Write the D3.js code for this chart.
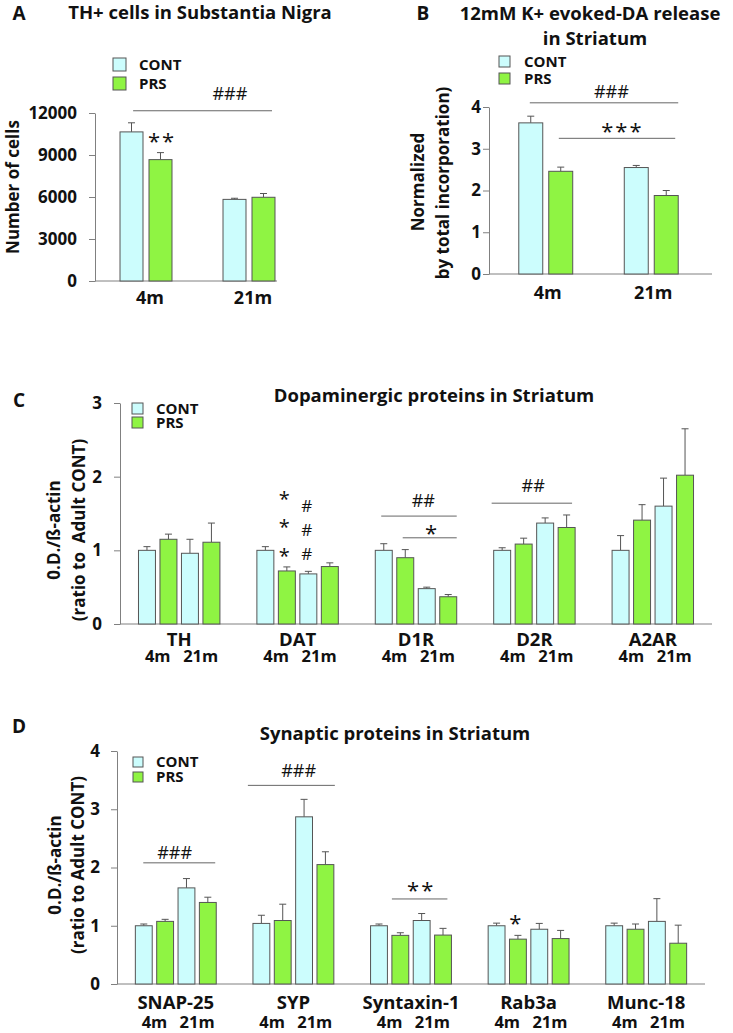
<!DOCTYPE html>
<html><head><meta charset="utf-8">
<script src="https://cdn.jsdelivr.net/npm/d3@7"></script>
<style>
body{margin:0;background:#fff;}
svg text{font-family:"Open Sans",Lato,sans-serif;fill:#111;}
</style></head><body>
<svg id="chart" width="733" height="1033"></svg>
<script>
// ---------------- DATA ----------------
const seriesTwo = ["CONT", "PRS"];
// Panel A: TH+ cells in Substantia Nigra
const ageGroupsA = ["4m", "21m"];
const thCont = [10650, 5830];
const thContErr = [650, 80];
const thPrs = [8670, 5980];
const thPrsErr = [500, 270];
const ticksA = [0, 3000, 6000, 9000, 12000];
// Panel B: 12mM K+ evoked DA release
const ageGroupsB = ["4m", "21m"];
const daCont = [3.62, 2.55];
const daContErr = [0.16, 0.05];
const daPrs = [2.46, 1.88];
const daPrsErr = [0.10, 0.12];
const ticksB = [0, 1, 2, 3, 4];
// Panel C: dopaminergic proteins
const seriesFour = ["CONT 4m", "PRS 4m", "CONT 21m", "PRS 21m"];
const proteinsC = ["TH", "DAT", "D1R", "D2R", "A2AR"];
const dopCont4 = [1.00, 1.00, 1.00, 1.00, 1.00];
const dopCont4Err = [0.05, 0.05, 0.09, 0.035, 0.20];
const dopPrs4 = [1.15, 0.72, 0.90, 1.085, 1.41];
const dopPrs4Err = [0.07, 0.055, 0.11, 0.08, 0.21];
const dopCont21 = [0.96, 0.68, 0.48, 1.37, 1.60];
const dopCont21Err = [0.19, 0.035, 0.02, 0.07, 0.38];
const dopPrs21 = [1.11, 0.78, 0.37, 1.31, 2.02];
const dopPrs21Err = [0.26, 0.05, 0.03, 0.17, 0.63];
const ticksC = [0, 1, 2, 3];
// Panel D: synaptic proteins
const proteinsD = ["SNAP-25", "SYP", "Syntaxin-1", "Rab3a", "Munc-18"];
const synCont4 = [1.00, 1.04, 1.00, 1.00, 1.00];
const synCont4Err = [0.03, 0.14, 0.03, 0.045, 0.045];
const synPrs4 = [1.075, 1.09, 0.835, 0.77, 0.94];
const synPrs4Err = [0.035, 0.28, 0.045, 0.065, 0.09];
const synCont21 = [1.65, 2.87, 1.09, 0.94, 1.075];
const synCont21Err = [0.16, 0.30, 0.12, 0.10, 0.39];
const synPrs21 = [1.40, 2.05, 0.84, 0.78, 0.70];
const synPrs21Err = [0.09, 0.22, 0.115, 0.14, 0.31];
const ticksD = [0, 1, 2, 3, 4];
const subAges = ["4m", "21m"];

// ---------------- STYLE ----------------
const CONT_FILL = "#ccfdfd", PRS_FILL = "#8ff443";
const AXIS = "#808080", EDGE = "#555555";
const FONT = "Open Sans";
const svg = d3.select("#chart");

function txt(x, y, s, size, opts = {}) {
  const t = svg.append("text").attr("x", x).attr("y", y).text(s)
    .attr("font-size", size).attr("font-family", FONT)
    .attr("font-weight", opts.weight || "bold")
    .attr("text-anchor", opts.anchor || "middle")
    .style("white-space", "pre");
  if (opts.rotate) t.attr("transform", `rotate(-90,${x},${y})`);
  if (opts.db) t.attr("dominant-baseline", opts.db);
  return t;
}

function panel(o) {
  const g = svg.append("g");
  const x0 = d3.scaleBand().domain(o.groups).range(o.xRange);
  const x1 = d3.scaleBand().domain(d3.range(o.values.length))
    .range([0, x0.bandwidth()]).paddingInner(o.inner).paddingOuter(o.outer);
  const y = d3.scaleLinear().domain(o.yDomain).range(o.yRange);
  const ax = g.append("g").attr("transform", `translate(${o.axisX},0)`)
    .call(d3.axisLeft(y).tickValues(o.ticks).tickSize(6).tickSizeOuter(0)
      .tickPadding(o.tickPad).tickFormat(d3.format("d")));
  ax.select(".domain").attr("stroke", AXIS);
  ax.selectAll(".tick line").attr("stroke", AXIS);
  ax.selectAll(".tick text").attr("font-size", o.tickFont).attr("font-weight", "bold")
    .attr("font-family", FONT).attr("fill", "#111");
  g.append("line").attr("x1", o.axisX).attr("x2", o.axisEnd)
    .attr("y1", y(0)).attr("y2", y(0)).attr("stroke", AXIS);

  const flat = [];
  o.values.forEach((arr, si) => arr.forEach((v, gi) =>
    flat.push({gi, si, v, e: o.errors[si][gi]})));
  const bw = x1.bandwidth();
  const bx = d => x0(o.groups[d.gi]) + x1(d.si);
  g.selectAll(null).data(flat).join("line")
    .attr("x1", d => bx(d) + bw / 2).attr("x2", d => bx(d) + bw / 2)
    .attr("y1", d => y(d.v)).attr("y2", d => y(d.v + d.e)).attr("stroke", EDGE);
  g.selectAll(null).data(flat).join("line")
    .attr("x1", d => bx(d) + bw / 2 - 3.5).attr("x2", d => bx(d) + bw / 2 + 3.5)
    .attr("y1", d => y(d.v + d.e)).attr("y2", d => y(d.v + d.e)).attr("stroke", EDGE);
  g.selectAll(null).data(flat).join("rect")
    .attr("x", bx).attr("y", d => y(d.v)).attr("width", bw)
    .attr("height", d => y(0) - y(d.v))
    .attr("fill", d => o.fills[d.si]).attr("stroke", EDGE).attr("stroke-width", 1);

  const p = {x0, x1, y, groups: o.groups, bw};
  p.bx = (gi, si, f) => x0(o.groups[gi]) + x1(si) + f * bw;
  o.groups.forEach((gname, gi) => {
    txt(x0(gname) + x0.bandwidth() / 2 + (o.labelDx || 0), o.labelY, gname, o.labelFont);
  });
  if (o.subLabels) {
    o.groups.forEach((gname, gi) => {
      o.subLabels.forEach((s, k) => {
        const cx = (p.bx(gi, 2 * k, 0) + p.bx(gi, 2 * k + 1, 1)) / 2;
        txt(cx, o.subY, s, o.subFont);
      });
    });
  }
  return p;
}

function bracket(p, a, b, v) {
  svg.append("line").attr("x1", p.bx(...a)).attr("x2", p.bx(...b))
    .attr("y1", p.y(v)).attr("y2", p.y(v)).attr("stroke", "#666").attr("stroke-width", 1);
}
// v = glyph centre (data units); baseline shifted by glyph-specific factor
function mark(p, a, v, s, size, kind) {
  const k = kind === "star" ? 0.56 : 0.36;
  txt(p.bx(...a), p.y(v) + k * size, s, size, {weight: "normal"})
    .attr("letter-spacing", kind === "star" ? 2 : 0);
}
function legend(x, y0, y1, sz, tx, fs) {
  [[y0, CONT_FILL, "CONT"], [y1, PRS_FILL, "PRS"]].forEach(([yy, f, s]) => {
    svg.append("rect").attr("x", x).attr("y", yy).attr("width", sz).attr("height", sz)
      .attr("fill", f).attr("stroke", EDGE);
    txt(tx, yy + sz / 2 + 0.36 * fs, s, fs, {anchor: "start"});
  });
}

// ---------------- PANEL A ----------------
txt(19, 19.5, "A", 19);
txt(200, 19, "TH+ cells in Substantia Nigra", 18.5);
legend(113, 58, 77, 13, 139, 15);
const pA = panel({groups: ageGroupsA, values: [thCont, thPrs], errors: [thContErr, thPrsErr],
  fills: [CONT_FILL, PRS_FILL], yDomain: [0, 12000], yRange: [281, 113], xRange: [94.5, 300.5],
  inner: 0.207, outer: 0.88, axisX: 95, axisEnd: 277, ticks: ticksA, tickPad: 12, tickFont: 17,
  labelY: 304, labelFont: 18, labelDx: 4});
txt(12, 187, "Number of cells", 17, {rotate: true, db: "central"});
bracket(pA, [0, 0, 0.57], [1, 1, 0.87], 12160);
mark(pA, [1, 0, 0.3], 13380, "###", 18, "hash");
mark(pA, [0, 1, 0.57], 10290, "**", 22, "star");

// ---------------- PANEL B ----------------
txt(423, 19.5, "B", 19);
txt(590, 20, "12mM K+ evoked-DA release", 18.5);
txt(595, 45, "in Striatum", 18.5);
legend(499, 56, 73, 11, 524, 15);
const pB = panel({groups: ageGroupsB, values: [daCont, daPrs], errors: [daContErr, daPrsErr],
  fills: [CONT_FILL, PRS_FILL], yDomain: [0, 4], yRange: [274, 107], xRange: [493, 704],
  inner: 0.2, outer: 0.86, axisX: 489, axisEnd: 712, ticks: ticksB, tickPad: 2, tickFont: 17,
  labelY: 299, labelFont: 18, labelDx: 2});
txt(417, 182, "Normalized", 17, {rotate: true, db: "central"});
txt(442, 183, "by total incorporation)", 17, {rotate: true, db: "central"});
bracket(pB, [0, 0, 0.46], [1, 1, 1.0], 4.10);
mark(pB, [1, 0, -0.54], 4.38, "###", 18, "hash");
bracket(pB, [0, 1, 0.42], [1, 1, 0.875], 3.25);
mark(pB, [1, 0, -0.08], 3.52, "***", 22, "star");

// ---------------- PANEL C ----------------
txt(19, 407, "C", 19);
txt(434, 402, "Dopaminergic proteins in Striatum", 18.5);
legend(132, 403, 417, 11, 156, 15);
const pC = panel({groups: proteinsC, values: [dopCont4, dopPrs4, dopCont21, dopPrs21],
  errors: [dopCont4Err, dopPrs4Err, dopCont21Err, dopPrs21Err],
  fills: [CONT_FILL, PRS_FILL, CONT_FILL, PRS_FILL], yDomain: [0, 3], yRange: [624, 403],
  xRange: [120, 712], inner: 0.21, outer: 0.86, axisX: 120, axisEnd: 712, ticks: ticksC,
  tickPad: 12, tickFont: 17, labelY: 646, labelFont: 18.5, subLabels: subAges, subY: 662, subFont: 16.5});
txt(53, 530, "0.D./ß-actin", 17, {rotate: true, db: "central"});
txt(78, 530, "(ratio to  Adult CONT)", 17, {rotate: true, db: "central"});
[1.75, 1.37, 0.98].forEach(v => mark(pC, [1, 1, 0.41], v, "*", 20, "star"));
[1.61, 1.275, 0.95].forEach(v => mark(pC, [1, 2, 0.41], v, "#", 17, "hash"));
bracket(pC, [2, 0, 0.35], [2, 3, 1.0], 1.465);
mark(pC, [2, 2, 0.3], 1.68, "##", 18, "hash");
bracket(pC, [2, 1, 0.35], [2, 3, 1.0], 1.17);
mark(pC, [2, 2, 0.82], 1.30, "*", 22, "star");
bracket(pC, [3, 0, -0.12], [3, 3, 0.82], 1.64);
mark(pC, [3, 1, 1.06], 1.886, "##", 18, "hash");

// ---------------- PANEL D ----------------
txt(19, 733, "D", 19);
txt(395, 740, "Synaptic proteins in Striatum", 18.5);
legend(133, 757, 772, 10, 156, 15);
const pD = panel({groups: proteinsD, values: [synCont4, synPrs4, synCont21, synPrs21],
  errors: [synCont4Err, synPrs4Err, synCont21Err, synPrs21Err],
  fills: [CONT_FILL, PRS_FILL, CONT_FILL, PRS_FILL], yDomain: [0, 4], yRange: [984, 751],
  xRange: [117, 705], inner: 0.21, outer: 0.86, axisX: 117, axisEnd: 705, ticks: ticksD,
  tickPad: 11, tickFont: 17, labelY: 1009, labelFont: 18.5, subLabels: subAges, subY: 1028, subFont: 16.5});
txt(54, 865, "0.D./ß-actin", 17, {rotate: true, db: "central"});
txt(77, 865, "(ratio to Adult CONT)", 17, {rotate: true, db: "central"});
bracket(pD, [0, 0, 0.47], [0, 3, 0.94], 2.08);
mark(pD, [0, 1, 1.06], 2.26, "###", 18, "hash");
bracket(pD, [1, 0, -0.3], [1, 3, 1.06], 3.41);
mark(pD, [1, 2, 0.18], 3.67, "###", 18, "hash");
bracket(pD, [2, 1, 0.0], [2, 3, 0.76], 1.46);
mark(pD, [2, 2, 0.47], 1.68, "**", 22, "star");
mark(pD, [3, 1, 0.41], 1.115, "*", 22, "star");
</script>
</body></html>
